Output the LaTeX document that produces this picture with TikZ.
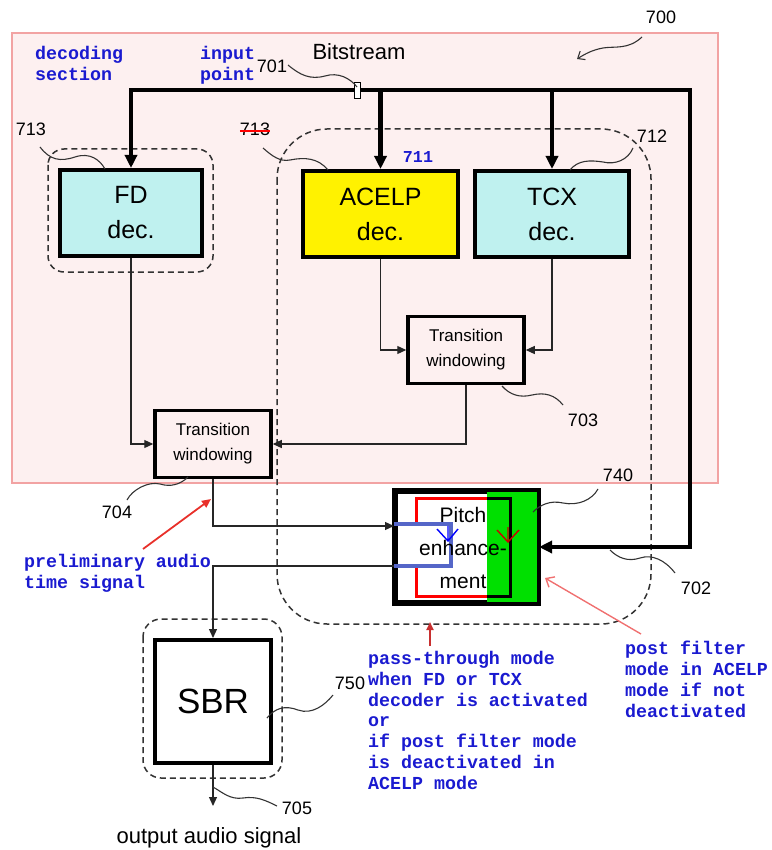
\documentclass[tikz,border=0pt]{standalone}
\usepackage{fontspec}
\setmainfont{Liberation Sans}
\newfontfamily\monof{Liberation Mono}
\usetikzlibrary{arrows.meta,calc}
\definecolor{pinkbg}{HTML}{FDF0F0}
\definecolor{pinkedge}{HTML}{F2A3A3}
\definecolor{fdcyan}{HTML}{BFF1EF}
\definecolor{acyellow}{HTML}{FFF200}
\definecolor{pgreen}{HTML}{00E000}
\definecolor{annblue}{HTML}{1A1AD0}
\definecolor{brblue}{HTML}{5566C8}
\definecolor{arrred}{HTML}{E8302A}
\definecolor{darkred}{HTML}{C83030}
\definecolor{lightred}{HTML}{F07070}
\tikzset{
  box/.style={draw, line width=4pt, inner sep=0pt, align=center, font=\fontsize{25}{35}\selectfont},
  twbox/.style={draw, line width=3.5pt, inner sep=0pt, align=center, minimum width=116, minimum height=67, font=\fontsize{17}{25}\selectfont},
  grp/.style={draw=black!80, line width=1.5pt, dash pattern=on 6pt off 4pt},
  wire/.style={line width=1.2pt, draw=black!85},
  arr/.style={-{Triangle[length=9pt,width=8pt]}},
  bus/.style={line width=4.5pt, line join=miter},
  leader/.style={line width=1.1pt, draw=black!80},
  num/.style={font=\fontsize{18}{20}\selectfont, inner sep=0pt},
  ann/.style={text=annblue, font=\monof\bfseries\fontsize{18.3}{20.8}\selectfont, align=left, inner sep=0pt, anchor=north west},
}
\begin{document}
\begin{tikzpicture}[x=1pt,y=-1pt]
\useasboundingbox (0,0) rectangle (771,850);
% decoding section background
\fill[pinkbg] (12,33) rectangle (718,483);
\draw[pinkedge, line width=1.2pt] (12,33) rectangle (718,483);
% dashed groups
\draw[grp, rounded corners=16pt] (48,149) rectangle (213,272);
\draw[grp, rounded corners=50pt] (277,129) rectangle (651,624);
\draw[grp, rounded corners=18pt] (143,619) rectangle (282,778);

% boxes
\node[box, fill=fdcyan, minimum width=142, minimum height=86] (fd) at (131,213) {FD\\dec.};
\node[box, fill=acyellow, minimum width=155, minimum height=86] (ac) at (380.5,214) {ACELP\\dec.};
\node[box, fill=fdcyan, minimum width=154, minimum height=86] (tcx) at (552,214) {TCX\\dec.};
\node[twbox] (tw3) at (466,350) {Transition\\windowing};
\node[twbox] (tw4) at (213,444) {Transition\\windowing};
\node[box, fill=white, minimum width=141, minimum height=110] (pe) at (466.5,547) {};
\node[box, fill=white, minimum width=116, minimum height=123, font=\fontsize{35}{40}\selectfont] (sbr) at (213,701.5) {SBR};

% pitch enhancement internals
\fill[pgreen] (487,0 |- pe.north) rectangle (pe.south east);
\draw[line width=4pt] (pe.south west) rectangle (pe.north east);
\draw[red, line width=3pt] (488,498) -- (416,498) -- (416,522) (416,567) -- (416,596) -- (488,596);
\draw[line width=3pt] (487,498) -- (510,498) -- (510,596) -- (487,596);
\draw[brblue, line width=3.5pt] (pe.west |- 0,524) -- (451,524) -- (451,566) -- (pe.west |- 0,566);
\draw[blue, line width=1.4pt] (437,529) -- (448,541) -- (458,529) (448,526) -- (448,541);
\draw[red!80!black, line width=1.4pt] (497,530) -- (508,542) -- (519,530) (508,527) -- (508,542);
\node[align=center, inner sep=0pt, font=\fontsize{21}{33}\selectfont] (petxt) at (463,548) {Pitch\\enhance-\\ment};

% bitstream bus
\coordinate (bsR) at (690,90);
\draw[bus, {Triangle[length=13pt,width=12pt]}-{Triangle[length=13pt,width=12pt]}] (fd.north) |- (bsR) |- (pe.east);
\draw[bus, -{Triangle[length=13pt,width=12pt]}] (ac.north |- bsR) -- (ac.north);
\draw[bus, -{Triangle[length=13pt,width=12pt]}] (tcx.north |- bsR) -- (tcx.north);
\node[draw, fill=white, line width=0.8pt, minimum width=6, minimum height=16, inner sep=0pt] (ip) at (357,90) {};

% thin wires
\draw[wire, arr] (ac.south) |- (tw3.west);
\draw[wire, arr] (tcx.south) |- (tw3.east);
\draw[wire, arr] (fd.south) |- (tw4.west);
\draw[wire, arr] (tw3.south) |- (tw4.east);
\draw[wire, arr] (tw4.south) |- (pe.west |- 0,526);
\draw[wire, arr] (pe.west |- 0,566) -| (sbr.north);
\coordinate (out) at (213,806);
\draw[wire, arr] (sbr.south) -- (out);

% labels
\node[anchor=base, font=\fontsize{22}{26}\selectfont] (bits) at (359,60) {Bitstream};
\node[anchor=base, font=\fontsize{22}{26}\selectfont] (outlbl) at (209,843) {output audio signal};
\node[num] (n700) at (661,17) {700};
\node[num] (n701) at (272,66) {701};
\node[num] (n713a) at (31,129) {713};
\node[num] (n713b) at (255,129) {713};
\draw[red, line width=1.5pt] (n713b.west |- 0,131) -- (n713b.east |- 0,131);
\node[num] (n712) at (652,136) {712};
\node[num] (n703) at (583,420) {703};
\node[num] (n704) at (117,512) {704};
\node[num] (n740) at (618,475) {740};
\node[num] (n702) at (696,588) {702};
\node[num] (n750) at (350,683) {750};
\node[num] (n705) at (297,808) {705};
\node[text=annblue, font=\monof\bfseries\fontsize{16.7}{18}\selectfont, inner sep=0pt] (n711) at (418,157) {711};

% leaders
\draw[leader, -{Straight Barb[length=6pt,width=10pt]}] (642,37) .. controls (628,50) and (615,46) .. (603,48) .. controls (592,50) and (585,54) .. (577,59);
\draw[leader] (288,65) .. controls (300,75) and (310,80) .. (325,76) .. controls (338,72) and (350,78) .. (357,87);
\draw[leader] (40,147) .. controls (50,160) and (60,162) .. (75,157) .. controls (90,152) and (100,160) .. (105,169);
\draw[leader] (263,148) .. controls (272,156) and (280,162) .. (290,160) .. controls (305,157) and (318,158) .. (328,170);
\draw[leader] (633,148) .. controls (628,160) and (615,165) .. (603,162) .. controls (590,160) and (578,160) .. (570,170);
\draw[leader] (502,386) .. controls (510,395) and (520,398) .. (532,395) .. controls (545,392) and (555,395) .. (563,405);
\draw[leader] (188,477) .. controls (180,485) and (170,487) .. (160,484) .. controls (148,481) and (132,490) .. (127,500);
\draw[leader] (533,512) .. controls (540,505) and (550,500) .. (563,503) .. controls (578,506) and (592,500) .. (598,489);
\draw[leader] (610,550) .. controls (618,558) and (628,562) .. (640,558) .. controls (652,554) and (665,560) .. (675,573);
\draw[leader] (267,718) .. controls (275,708) and (285,705) .. (298,710) .. controls (312,715) and (325,705) .. (333,695);
\draw[leader] (213,787) .. controls (222,792) and (230,800) .. (243,798) .. controls (256,796) and (265,800) .. (277,806);

% annotations
\node[ann] (decsec) at (35,46) {decoding\\section};
\node[ann] (inpt) at (200,46) {input\\point};
\node[ann] (prelim) at (24,554) {preliminary audio\\time signal};
\node[ann] (pass) at (368,651) {pass-through mode\\when FD or TCX\\decoder is activated\\or\\if post filter mode\\is deactivated in\\ACELP mode};
\node[ann] (post) at (625,641) {post filter\\mode in ACELP\\mode if not\\deactivated};

% red annotation arrows
\coordinate (r1a) at (143,549); \coordinate (r1b) at (211,499);
\draw[arrred, line width=1.8pt, -{Triangle[length=9pt,width=8pt]}] (r1a) -- (r1b);
\coordinate (r2a) at (430,646); \coordinate (r2b) at (430,622);
\draw[darkred, line width=1.8pt, -{Triangle[length=8pt,width=7pt]}] (r2a) -- (r2b);
\coordinate (r3a) at (641,634); \coordinate (r3b) at (545,578);
\draw[lightred, line width=1.4pt, -{Straight Barb[length=7pt,width=12pt]}] (r3a) -- (r3b);
\end{tikzpicture}
\end{document}
